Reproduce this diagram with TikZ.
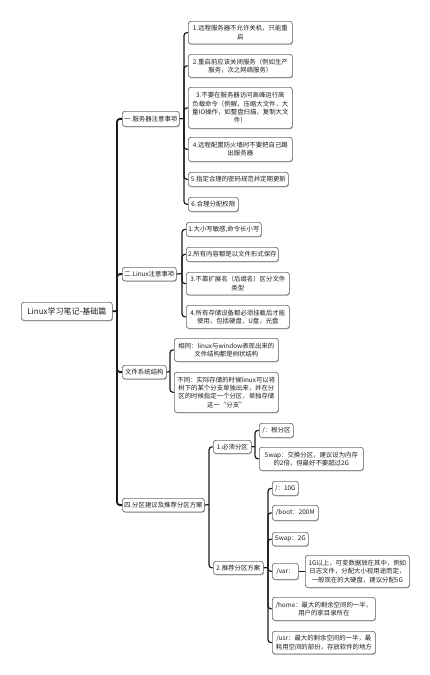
\documentclass[tikz,border=0pt]{standalone}
\usepackage{fontspec}
\setmainfont{Noto Sans CJK SC}
\usetikzlibrary{shadows}
\definecolor{bord}{HTML}{6E6E6E}
\definecolor{txt}{HTML}{1E1E1E}
\definecolor{lin}{HTML}{1A1A1A}
\tikzset{
  box/.style={draw=bord, line width=0.7pt, rounded corners=2.5pt, fill=white,
    text=txt, align=center, inner xsep=1.5pt, inner ysep=1pt, anchor=north west,
    font=\fontsize{6.4}{8.3}\selectfont,
    drop shadow={shadow xshift=0.5pt, shadow yshift=-0.9pt, fill=black!50, opacity=0.6}},
  rootbox/.style={box, font=\fontsize{8}{10}\selectfont},
  trunk/.style={draw=lin, line width=1.8pt, rounded corners=3pt},
  conn/.style={draw=lin, line width=1.2pt, rounded corners=3pt},
}
\newcommand{\bx}[7][box]{\node[#1, minimum width=#6pt, minimum height=#7pt] (#2) at (#3,#4) {#5};}
\begin{document}
\begin{tikzpicture}[x=1pt,y=-1pt]
\useasboundingbox (0,0) rectangle (430,675);
% root
\bx[rootbox]{root}{21}{302}{Linux学习笔记-基础篇}{91}{18}
% level 1
\bx{a}{122}{111}{一.服务器注意事项}{57}{15}
\bx{b}{122}{267}{二.Linux注意事项}{54}{13.5}
\bx{c}{122}{365}{文件系统结构}{44}{13.5}
\bx{d}{122}{498}{四.分区建议及推荐分区方案}{82}{13.5}
% a children
\bx{a1}{188}{21}{1.远程服务器不允许关机，只能重\\启}{104}{22.5}
\bx{a2}{188}{54}{2.重启前应该关闭服务（例如生产\\服务，次之网络服务）}{104}{23}
\bx{a3}{188}{87}{3.不要在服务器访问高峰运行高\\负载命令（例解，压缩大文件，大\\量IO操作，如整盘扫描，复制大文\\件）}{104}{41}
\bx{a4}{188}{137}{4.远程配置防火墙时不要把自己踢\\出服务器}{104}{24}
\bx{a5}{188}{172}{5.指定合理的密码规范并定期更新}{100}{14}
\bx{a6}{188}{197}{6.合理分配权限}{50}{14}
% b children
\bx{b1}{186}{222}{1.大小写敏感,命令长小写}{75}{14}
\bx{b2}{186}{247}{2.所有内容都是以文件形式保存}{92}{14}
\bx{b3}{186}{272}{3.不靠扩展名（后缀名）区分文件\\类型}{103}{22.5}
\bx{b4}{186}{305}{4.所有存储设备都必须挂载后才能\\使用，包括硬盘，U盘，光盘}{103}{23}
% c children
\bx{c1}{174}{338}{相同：linux与window表现出来的\\文件结构都是树状结构}{104}{23}
\bx{c2}{174}{372}{不同：实际存储的时候linux可以将\\树下的某个分支单独出来，并在分\\区的时候指定一个分区，单独存储\\这一“分支”}{104}{40}
% d children
\bx{d1}{213}{440}{1.必须分区}{38}{13}
\bx{d2}{213}{561}{2.推荐分区方案}{50}{13}
% d1 children
\bx{d11}{259}{423}{/：根分区}{34}{14}
\bx{d12}{259}{447}{Swap：交换分区，建议设为内存\\的2倍，但最好不要超过2G}{104}{23}
% d2 children
\bx{e1}{272}{481}{/：10G}{26}{14}
\bx{e2}{272}{505}{/boot：200M}{46}{15}
\bx{e3}{272}{532}{Swap：2G}{36}{13.5}
\bx{e4}{272}{563}{/var：}{26}{16}
\bx{e41}{305}{555}{1G以上，可变数据放在其中，例如\\日志文件，分配大小视用途而定，\\一般现在的大硬盘，建议分配5G}{104}{32}
\bx{e5}{272}{597}{/home：最大的剩余空间的一半，\\用户的家目录所在}{103}{23}
\bx{e6}{272}{631}{/usr：最大的剩余空间的一半，最\\耗用空间的部份，存放软件的地方}{103}{22.5}
% branch points
\coordinate (rt) at (117,311);
\coordinate (ab) at (184,118.5);
\coordinate (bb) at (182,273.5);
\coordinate (cb) at (170,371.5);
\coordinate (db) at (209,504.5);
\coordinate (d1b) at (255,446.5);
\coordinate (d2b) at (268,567.5);
% connectors
\draw[trunk] (root.east) -- (rt);
\foreach \n in {a,b,c,d} {\draw[trunk] (rt) |- (\n.west);}
\draw[conn] (a.east) -- (ab);
\foreach \n in {a1,a2,a3,a4,a5,a6} {\draw[conn] (ab) |- (\n.west);}
\draw[conn] (b.east) -- (bb);
\foreach \n in {b1,b2,b3,b4} {\draw[conn] (bb) |- (\n.west);}
\draw[conn] (c.east) -- (cb);
\foreach \n in {c1,c2} {\draw[conn] (cb) |- (\n.west);}
\draw[conn] (d.east) -- (db);
\foreach \n in {d1,d2} {\draw[conn] (db) |- (\n.west);}
\draw[conn] (d1.east) -- (d1b);
\foreach \n in {d11,d12} {\draw[conn] (d1b) |- (\n.west);}
\draw[conn] (d2.east) -- (d2b);
\foreach \n in {e1,e2,e3,e4,e5,e6} {\draw[conn] (d2b) |- (\n.west);}
\draw[conn] (e4.east) -- (e41.west);
\end{tikzpicture}
\end{document}
